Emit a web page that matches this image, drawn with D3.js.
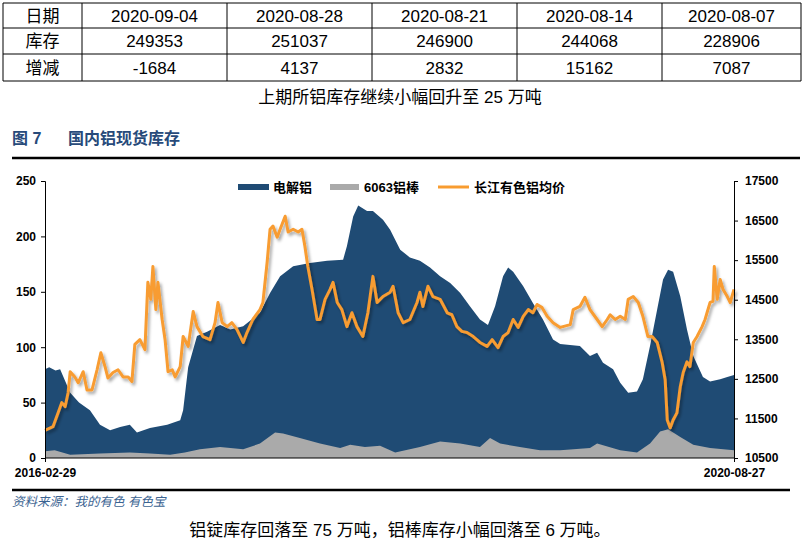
<!DOCTYPE html>
<html><head><meta charset="utf-8">
<script src="https://cdn.jsdelivr.net/npm/d3@7/dist/d3.min.js"></script>
<style>
body{margin:0;background:#fff;}
svg{display:block;font-family:"Liberation Sans",Arial,"Noto Sans CJK SC",sans-serif;}
</style></head><body>
<svg id="c" width="805" height="547"></svg>
<script>
// ---- table data ----
const tableHeader = ["日期","库存","增减"];
const tableDates = ["2020-09-04","2020-08-28","2020-08-21","2020-08-14","2020-08-07"];
const tableStocks = ["249353","251037","246900","244068","228906"];
const tableChanges = ["-1684","4137","2832","15162","7087"];

// ---- chart data ----
const seriesNames = ["电解铝","6063铝棒","长江有色铝均价"];
const leftTicks = [0,50,100,150,200,250];
const rightTicks = [10500,11500,12500,13500,14500,15500,16500,17500];
const xLabels = ["2016-02-29","2020-08-27"];

const stockDates = ["2016-02-29","2016-03-10","2016-03-25","2016-04-05","2016-04-29","2016-05-20","2016-06-15","2016-07-09","2016-08-02","2016-08-26","2016-09-18","2016-10-05","2016-11-05","2016-12-16","2017-01-16","2017-01-23","2017-02-04","2017-02-25","2017-03-21","2017-04-21","2017-05-15","2017-06-15","2017-07-25","2017-08-18","2017-09-11","2017-10-12","2017-11-21","2018-01-01","2018-02-08","2018-02-17","2018-03-04","2018-03-16","2018-04-06","2018-04-20","2018-05-14","2018-05-31","2018-06-24","2018-07-17","2018-08-10","2018-09-03","2018-09-27","2018-10-21","2018-11-14","2018-12-07","2018-12-31","2019-01-19","2019-02-05","2019-02-24","2019-03-08","2019-03-20","2019-04-13","2019-05-06","2019-05-30","2019-06-23","2019-07-10","2019-08-26","2019-09-19","2019-10-06","2019-10-20","2019-11-13","2019-11-30","2019-12-19","2020-01-09","2020-01-23","2020-02-09","2020-02-26","2020-03-11","2020-03-23","2020-04-04","2020-04-21","2020-05-07","2020-05-22","2020-06-14","2020-07-01","2020-07-25","2020-08-11","2020-08-27"];
const stockValues = [80,82,79,80,59,50,43,30,25,28,30,23,27,30,34,43,82,110,114,120,116,119,131,149,164,173,176,178,179,191,218,228,223,223,215,206,188,181,178,172,164,158,149,137,125,120,137,164,172,168,155,140,125,107,103,101,92,95,86,80,68,59,60,71,101,134,161,170,168,146,116,92,73,69,71,73,75];

const rodDates = ["2016-02-29","2016-03-23","2016-04-29","2016-07-09","2016-09-18","2016-11-05","2016-12-23","2017-01-27","2017-03-04","2017-04-21","2017-06-15","2017-07-25","2017-08-30","2017-09-18","2017-10-28","2017-12-15","2018-02-01","2018-02-25","2018-04-01","2018-05-07","2018-06-12","2018-08-10","2018-09-27","2018-11-14","2018-12-31","2019-01-24","2019-02-17","2019-04-05","2019-05-23","2019-07-10","2019-09-19","2019-10-06","2019-11-30","2020-01-09","2020-02-09","2020-03-04","2020-03-23","2020-04-21","2020-05-22","2020-07-01","2020-08-27"];
const rodValues = [6,7,3,4,5,4,3,5,8,10,8,13,23,22,18,13,9,12,10,11,5,10,15,13,10,18,13,10,7,7,9,13,7,5,13,24,26,19,12,9,7];

const priceDates = ["2016-02-29","2016-03-19","2016-03-31","2016-04-09","2016-04-17","2016-04-24","2016-04-29","2016-05-10","2016-05-18","2016-05-30","2016-06-08","2016-06-20","2016-07-02","2016-07-11","2016-07-21","2016-07-28","2016-08-09","2016-08-21","2016-09-02","2016-09-14","2016-09-23","2016-09-30","2016-10-12","2016-10-24","2016-10-31","2016-11-07","2016-11-12","2016-11-19","2016-11-24","2016-12-04","2016-12-11","2016-12-18","2016-12-28","2017-01-04","2017-01-16","2017-01-23","2017-02-04","2017-02-16","2017-02-25","2017-03-11","2017-03-28","2017-04-09","2017-04-16","2017-04-26","2017-05-08","2017-05-19","2017-05-31","2017-06-15","2017-06-24","2017-07-08","2017-07-25","2017-08-01","2017-08-11","2017-08-18","2017-08-25","2017-09-04","2017-09-11","2017-09-23","2017-09-30","2017-10-12","2017-10-24","2017-11-02","2017-11-09","2017-11-16","2017-11-26","2017-12-08","2017-12-15","2017-12-27","2018-01-08","2018-01-15","2018-01-25","2018-02-05","2018-02-17","2018-03-01","2018-03-13","2018-03-27","2018-04-08","2018-04-20","2018-04-30","2018-05-14","2018-05-31","2018-06-07","2018-06-19","2018-07-01","2018-07-17","2018-08-03","2018-08-10","2018-08-17","2018-08-29","2018-09-10","2018-09-27","2018-10-14","2018-10-25","2018-11-06","2018-11-18","2018-11-30","2018-12-15","2018-12-31","2019-01-17","2019-01-29","2019-02-12","2019-02-24","2019-03-08","2019-03-20","2019-04-01","2019-04-13","2019-04-25","2019-05-06","2019-05-16","2019-05-28","2019-06-09","2019-06-23","2019-07-10","2019-08-03","2019-08-10","2019-08-26","2019-09-07","2019-09-19","2019-10-06","2019-10-18","2019-10-30","2019-11-06","2019-11-18","2019-11-30","2019-12-12","2019-12-19","2019-12-31","2020-01-12","2020-01-23","2020-02-04","2020-02-14","2020-02-26","2020-03-09","2020-03-16","2020-03-21","2020-03-28","2020-04-04","2020-04-13","2020-04-21","2020-04-28","2020-05-07","2020-05-14","2020-05-22","2020-05-31","2020-06-12","2020-06-19","2020-07-01","2020-07-08","2020-07-11","2020-07-18","2020-07-25","2020-08-01","2020-08-11","2020-08-18","2020-08-27"];
const priceValues = [11200,11290,11640,11900,11800,12150,12680,12550,12400,12680,12220,12220,12730,13160,12810,12520,12660,12730,12550,12550,12430,13370,13490,13240,14940,14510,15340,14250,14940,14000,13490,12680,12730,12550,12810,13570,13320,14200,13820,13570,13490,13920,14430,13920,13820,13920,13750,13420,13670,14000,14250,14430,15440,16280,16360,16080,16280,16610,16210,16280,16210,16280,15850,15340,14760,14000,14000,14510,14760,14940,14430,14250,13820,14170,13820,13570,14170,15090,14430,14580,14690,14840,14170,13920,14000,14430,14690,14330,14840,14580,14510,14170,14120,13820,13700,13670,13570,13420,13320,13490,13290,13570,13670,14000,13800,14080,14250,14170,14380,14300,14080,13920,13800,13870,14250,14330,14560,14250,14000,13820,14000,14120,14000,14080,14000,14510,14580,14430,14080,13570,13570,13420,12910,12480,11460,11260,11460,11640,12300,12660,12930,12810,13420,13570,13820,14000,14430,14460,15340,14510,15010,14760,14580,14430,14760];

const parse = d3.timeParse("%Y-%m-%d");
const stock = stockDates.map((d,i)=>({date:parse(d),v:stockValues[i]}));
const rod = rodDates.map((d,i)=>({date:parse(d),v:rodValues[i]}));
const price = priceDates.map((d,i)=>({date:parse(d),v:priceValues[i]}));

const svg = d3.select("#c");
const defs = svg.append("defs");
const f = defs.append("filter").attr("id","sh").attr("x","-5%").attr("y","-5%").attr("width","110%").attr("height","110%");
f.append("feDropShadow").attr("dx",2).attr("dy",2.5).attr("stdDeviation",1.4).attr("flood-color","#000").attr("flood-opacity",0.35);

// ---- table ----
const colX = [3,82,227,372,517,662,801];
const rowY = [3,28,54,81];
const tg = svg.append("g");
rowY.forEach(y=>tg.append("line").attr("x1",colX[0]).attr("x2",colX[6]).attr("y1",y).attr("y2",y).attr("stroke","#000").attr("stroke-width",1));
colX.forEach(x=>tg.append("line").attr("x1",x).attr("x2",x).attr("y1",rowY[0]).attr("y2",rowY[3]).attr("stroke","#000").attr("stroke-width",1));
const rows = [tableDates,tableStocks,tableChanges];
rows.forEach((r,ri)=>{
  const cy = (rowY[ri]+rowY[ri+1])/2 + 6;
  tg.append("text").attr("x",(colX[0]+colX[1])/2).attr("y",cy).attr("text-anchor","middle").attr("font-size",17).text(tableHeader[ri]);
  r.forEach((t,ci)=>{
    tg.append("text").attr("x",(colX[ci+1]+colX[ci+2])/2).attr("y",cy).attr("text-anchor","middle").attr("font-size",17).text(t);
  });
});
svg.append("text").attr("x",400).attr("y",103).attr("text-anchor","middle").attr("font-size",17).text("上期所铝库存继续小幅回升至 25 万吨");

// ---- title ----
const titleColor = "#274a7a";
svg.append("text").attr("x",12).attr("y",144).attr("font-size",16).attr("font-weight","bold").attr("fill",titleColor).text("图 7");
svg.append("text").attr("x",68).attr("y",144).attr("font-size",16).attr("font-weight","bold").attr("fill",titleColor).text("国内铝现货库存");
svg.append("line").attr("x1",12).attr("x2",800).attr("y1",158).attr("y2",158).attr("stroke","#000").attr("stroke-width",2.5);

// ---- scales ----
const x = d3.scaleTime().domain([parse("2016-02-29"),parse("2020-08-27")]).range([45,734]);
const yL = d3.scaleLinear().domain([0,250]).range([458,181]);
const yR = d3.scaleLinear().domain([10500,17500]).range([458,181]);

const blue = "#1f4b74", gray = "#aaaaaa", orange = "#f89c30";

svg.append("path").datum(stock).attr("fill",blue)
  .attr("d",d3.area().x(d=>x(d.date)).y0(yL(0)).y1(d=>yL(d.v)));
svg.append("path").datum(rod).attr("fill",gray)
  .attr("d",d3.area().x(d=>x(d.date)).y0(yL(0)).y1(d=>yL(d.v)));
svg.append("path").datum(price).attr("fill","none").attr("stroke",orange).attr("stroke-width",3)
  .attr("stroke-linejoin","round").attr("filter","url(#sh)")
  .attr("d",d3.line().x(d=>x(d.date)).y(d=>yR(d.v)));

// ---- axes ----
const axFont = g=>g.selectAll("text").attr("font-size",12).attr("font-weight","bold").attr("fill","#000").attr("font-family","'Liberation Sans',Arial,sans-serif");
const gl = svg.append("g").attr("transform","translate(45,0)")
  .call(d3.axisLeft(yL).tickValues(leftTicks).tickSize(4).tickPadding(5));
gl.select(".domain").attr("stroke","#000"); gl.call(axFont);
gl.selectAll(".tick line").attr("stroke","#000");
const gr = svg.append("g").attr("transform","translate(734,0)")
  .call(d3.axisRight(yR).tickValues(rightTicks).tickFormat(d3.format("d")).tickSize(4).tickPadding(7));
gr.select(".domain").attr("stroke","#000"); gr.call(axFont);
gr.selectAll(".tick line").attr("stroke","#000");
const gb = svg.append("g").attr("transform","translate(0,458)")
  .call(d3.axisBottom(x).tickValues(xLabels.map(parse)).tickFormat(d3.timeFormat("%Y-%m-%d")).tickSize(4).tickPadding(6));
gb.select(".domain").attr("stroke","#000").attr("d","M45,0H734"); gb.call(axFont);
gb.selectAll(".tick line").attr("stroke","#000");

// ---- legend ----
const lg = svg.append("g").attr("font-size",13).attr("font-weight","bold");
lg.append("rect").attr("x",238).attr("y",184).attr("width",31).attr("height",6).attr("fill",blue);
lg.append("text").attr("x",273).attr("y",192).text(seriesNames[0]);
lg.append("rect").attr("x",330).attr("y",184).attr("width",29).attr("height",6).attr("fill",gray);
lg.append("text").attr("x",364).attr("y",192).text(seriesNames[1]);
lg.append("line").attr("x1",438).attr("x2",469).attr("y1",187).attr("y2",187).attr("stroke",orange).attr("stroke-width",3);
lg.append("text").attr("x",474).attr("y",192).text(seriesNames[2]);

// ---- footer ----
svg.append("line").attr("x1",12).attr("x2",790).attr("y1",490).attr("y2",490).attr("stroke","#000").attr("stroke-width",2.5);
svg.append("text").attr("x",12).attr("y",506).attr("font-size",12.5).attr("font-style","italic").attr("fill","#3b6391").text("资料来源：我的有色  有色宝");
svg.append("text").attr("x",400).attr("y",536).attr("text-anchor","middle").attr("font-size",17).text("铝锭库存回落至 75 万吨，铝棒库存小幅回落至 6 万吨。");
</script>
</body></html>
